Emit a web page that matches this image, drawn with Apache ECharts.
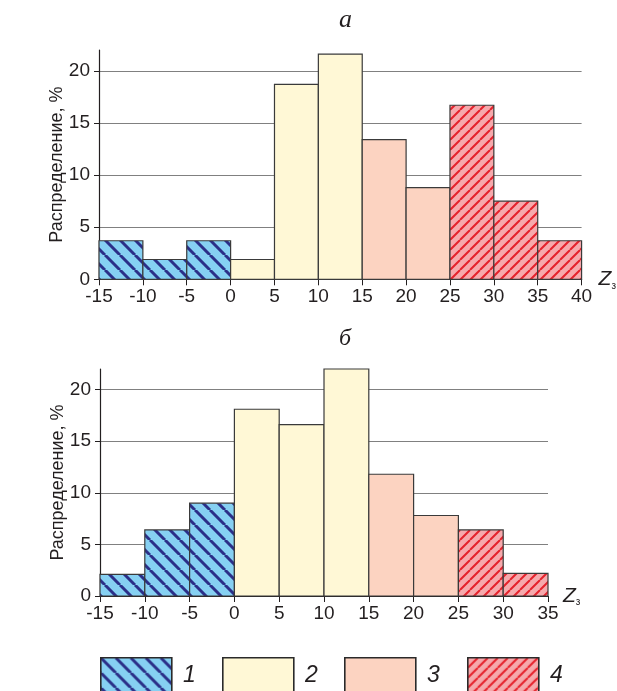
<!DOCTYPE html>
<html><head><meta charset="utf-8">
<script src="https://cdn.jsdelivr.net/npm/echarts@6/dist/echarts.min.js"></script>
<style>html,body{margin:0;padding:0;background:#fff}#c{width:617px;height:691px}</style>
</head><body><div id="c"></div>
<script>
// ---- data ----
const binWidth = 5;
const binsA = [-15, -10, -5, 0, 5, 10, 15, 20, 25, 30, 35];
const valuesA = [3.7, 1.9, 3.7, 1.9, 18.7, 21.6, 13.4, 8.8, 16.7, 7.5, 3.7];
const binsB = [-15, -10, -5, 0, 5, 10, 15, 20, 25, 30];
const valuesB = [2.1, 6.4, 9.0, 18.1, 16.6, 22.0, 11.8, 7.8, 6.4, 2.2];
// class boundaries: 1: <0, 2: 0..15, 3: 15..25, 4: >=25
const classEdges = [0, 15, 25];
const legendLabels = ['1', '2', '3', '4'];
const titleA = 'а', titleB = 'б';
const yName = 'Распределение, %';

function classOf(x) {
  let c = 0;
  while (c < classEdges.length && x >= classEdges[c]) c++;
  return c;
}
function toData(bins, vals) {
  return bins.map((b, i) => [b, b + binWidth, vals[i], classOf(b)]);
}

function stripe(bg, fg, size, lw, dir) {
  const c = document.createElement('canvas');
  c.width = c.height = size;
  const g = c.getContext('2d');
  g.fillStyle = bg; g.fillRect(0, 0, size, size);
  g.strokeStyle = fg; g.lineWidth = lw;
  g.beginPath();
  for (let k = -1; k <= 1; k++) {
    if (dir === 'back') { g.moveTo(k * size, 0); g.lineTo(k * size + size, size); }
    else { g.moveTo(k * size, size); g.lineTo(k * size + size, 0); }
  }
  g.stroke();
  return c;
}
const fills = [
  { image: stripe('#86d0f2', '#2b2f88', 15, 3, 'back'), repeat: 'repeat' },
  '#fff8d6',
  '#fcd3c1',
  { image: stripe('#f6a9ac', '#e5222c', 10, 2, 'fwd'), repeat: 'repeat' }
];

function renderItem(params, api) {
  const p0 = api.coord([api.value(0), api.value(2)]);
  const p1 = api.coord([api.value(1), 0]);
  return {
    type: 'rect',
    shape: { x: p0[0], y: p0[1], width: p1[0] - p0[0], height: p1[1] - p0[1] },
    style: { fill: fills[api.value(3)], stroke: '#3a3a3a', lineWidth: 1.2 }
  };
}

const txt = '#231f20';
function xAxis(gi, max) {
  return {
    type: 'value', gridIndex: gi, min: -15, max: max, interval: 5,
    axisLine: { onZero: false, lineStyle: { color: txt, width: 1.2 } },
    axisTick: { show: true, length: 6, lineStyle: { color: txt } },
    axisLabel: { color: txt, fontSize: 19, fontFamily: 'Liberation Sans', margin: 8 },
    splitLine: { show: false },
    name: '{z|Z}{s|з}', nameLocation: 'end', nameGap: gi === 0 ? 17 : 15,
    nameMoveOverlap: false,
    nameTextStyle: {
      rich: {
        z: { fontSize: 21, fontStyle: 'italic', fontFamily: 'Liberation Sans', color: txt },
        s: { fontSize: 10, fontFamily: 'Liberation Sans', color: txt, padding: [13, 0, 0, 0] }
      }
    }
  };
}
function yAxis(gi) {
  return {
    type: 'value', gridIndex: gi, min: 0, max: 22, interval: 5,
    axisLine: { show: true, onZero: false, lineStyle: { color: txt, width: 1.2 } },
    axisTick: { show: true, length: 5, lineStyle: { color: txt } },
    axisLabel: { color: txt, fontSize: 19, fontFamily: 'Liberation Sans', margin: 9, showMaxLabel: false },
    splitLine: { show: true, showMaxLine: false, lineStyle: { color: '#808080', width: 1.2 } },
    name: yName, nameLocation: 'middle', nameGap: 33, nameMoveOverlap: false,
    nameTextStyle: { color: txt, fontSize: 18, fontFamily: 'Liberation Sans' }
  };
}

const legendX = [100, 222, 344, 467];
const graphics = [];
legendLabels.forEach((l, i) => {
  graphics.push({
    type: 'rect', left: legendX[i], top: 657,
    shape: { width: 71, height: 40 },
    style: { fill: fills[i], stroke: '#2a2a2a', lineWidth: 1.6 }
  });
  graphics.push({
    type: 'text', left: legendX[i] + 83, top: 664,
    style: { text: l, fontSize: 23, fontStyle: 'italic', fontFamily: 'Liberation Sans', fill: txt }
  });
});

const chart = echarts.init(document.getElementById('c'), null, { renderer: 'canvas' });
chart.setOption({
  animation: false,
  title: [
    { text: titleA, left: 334, top: 2, textStyle: { fontFamily: 'Liberation Serif', fontStyle: 'italic', fontWeight: 'normal', fontSize: 26, color: txt } },
    { text: titleB, left: 334, top: 322, textStyle: { fontFamily: 'Liberation Serif', fontStyle: 'italic', fontWeight: 'normal', fontSize: 24, color: txt } }
  ],
  grid: [
    { left: 99, top: 50, width: 483, height: 229.3 },
    { left: 100, top: 369, width: 448, height: 227 }
  ],
  xAxis: [xAxis(0, 40), xAxis(1, 35)],
  yAxis: [yAxis(0), yAxis(1)],
  series: [
    { type: 'custom', xAxisIndex: 0, yAxisIndex: 0, renderItem: renderItem, encode: { x: [0, 1], y: 2 }, data: toData(binsA, valuesA) },
    { type: 'custom', xAxisIndex: 1, yAxisIndex: 1, renderItem: renderItem, encode: { x: [0, 1], y: 2 }, data: toData(binsB, valuesB) }
  ],
  graphic: graphics
});
</script></body></html>
